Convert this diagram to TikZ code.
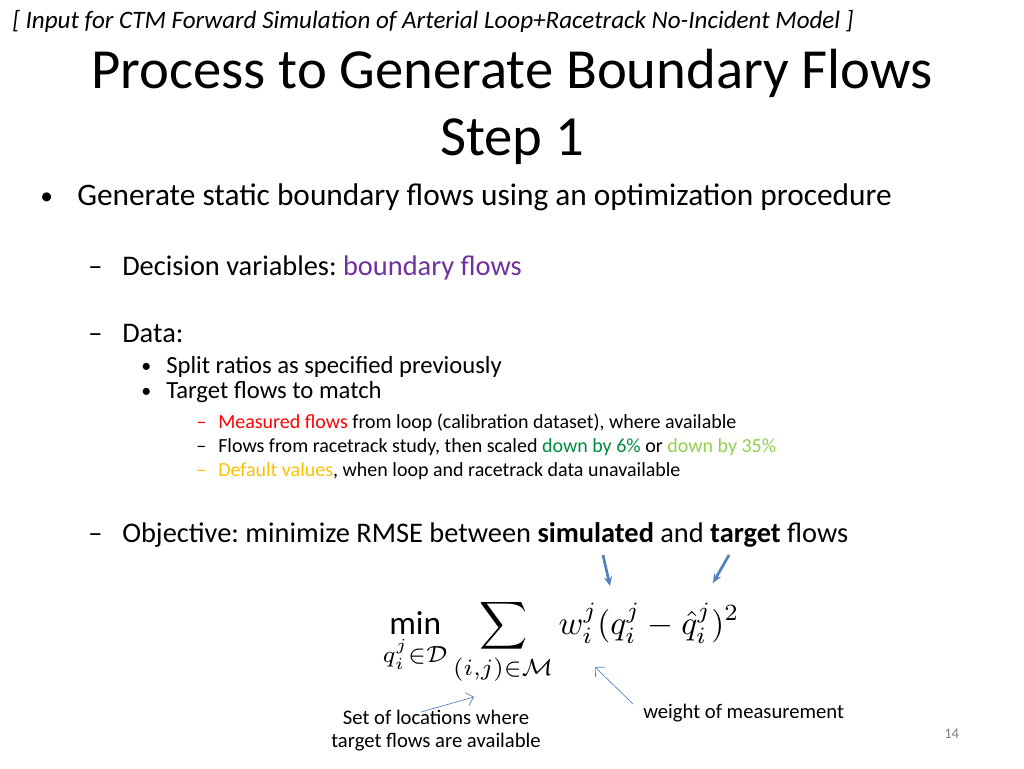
\documentclass[tikz,border=0pt]{standalone}
\usetikzlibrary{arrows.meta}
\usepackage{amsmath}
\usepackage{fontspec}
\setmainfont{Carlito}
\frenchspacing
\definecolor{pur}{RGB}{112,48,160}
\definecolor{dg}{RGB}{0,140,60}
\definecolor{lg}{RGB}{146,208,80}
\definecolor{gold}{RGB}{255,192,0}
\definecolor{ab}{RGB}{79,129,189}
\begin{document}
\begin{tikzpicture}[x=0.75pt,y=-0.75pt,
  t/.style={anchor=base west,inner sep=0},
  fs/.style={font=\fontsize{#1}{#1}\selectfont},
  big/.style={-{Stealth[length=7pt,width=6pt]},ab,line width=2pt},
  thin/.style={-{Straight Barb[length=5pt]},ab,line width=0.5pt}]
\useasboundingbox (0,0) rectangle (1024,768);
\node[t,fs=18.8] (hdr) at (12,28) {\itshape [ Input for CTM Forward Simulation of Arterial Loop+Racetrack No-Incident Model ]};
\node[anchor=base,inner sep=0,fs=42.5] (title) at (512,88) {Process to Generate Boundary Flows};
\node[anchor=base,inner sep=0,fs=42.5] (step) at (512,155) {Step 1};
\node[t,fs=19] (b1) at (40,204) {•};
\node[t,fs=23.5] (l1) at (77,205) {Generate static boundary flows using an optimization procedure};
\node[t,fs=21.3] (d1) at (88,275) {–};
\node[t,fs=21.3] (l2) at (122,275) {Decision variables: \textcolor{pur}{boundary flows}};
\node[t,fs=21.3] (d2) at (88,342) {–};
\node[t,fs=21.3] (l3) at (122,342) {Data:};
\node[t,fs=15] (b2) at (141,372) {•};
\node[t,fs=18.5] (l4) at (166,373) {Split ratios as specified previously};
\node[t,fs=15] (b3) at (141,397) {•};
\node[t,fs=18.5] (l5) at (166,398) {Target flows to match};
\node[t,fs=15,red] (d3) at (196,428) {–};
\node[t,fs=15] (l6) at (218,428) {\textcolor{red}{Measured flows} from loop (calibration dataset), where available};
\node[t,fs=15] (d4) at (196,452) {–};
\node[t,fs=15] (l7) at (218,452) {Flows from racetrack study, then scaled \textcolor{dg}{down by 6\%} or \textcolor{lg}{down by 35\%}};
\node[t,fs=15,gold] (d5) at (196,476) {–};
\node[t,fs=15] (l8) at (218,476) {\textcolor{gold}{Default values}, when loop and racetrack data unavailable};
\node[t,fs=21.3] (d6) at (88,542) {–};
\node[t,fs=21.3] (l9) at (122,542) {Objective: minimize RMSE between \textbf{simulated} and \textbf{target} flows};
\node[inner sep=0,scale=2.5] (f) at (561,642) {$\displaystyle \min_{q_i^j\in\mathcal{D}}\sum_{(i,j)\in\mathcal{M}} w_i^j(q_i^j-\hat{q}_i^j)^2$};
\coordinate (s1) at (603,555); \coordinate (e1) at (610,586);
\coordinate (s2) at (729,555); \coordinate (e2) at (713,583);
\draw[big] (s1) -- (e1);
\draw[big] (s2) -- (e2);
\node[align=center,inner sep=0,fs=15.5,anchor=north] (set) at (436,710) {Set of locations where\\[2pt]target flows are available};
\node[t,fs=15.5] (w) at (643,718) {weight of measurement};
\coordinate (a1) at (421,712); \coordinate (b1e) at (474,697);
\coordinate (a2) at (633,704); \coordinate (b2e) at (595,667);
\draw[thin] (a1) -- (b1e);
\draw[thin] (a2) -- (b2e);
\node[t,fs=11,gray] (pg) at (944,738) {14};
\end{tikzpicture}
\end{document}
